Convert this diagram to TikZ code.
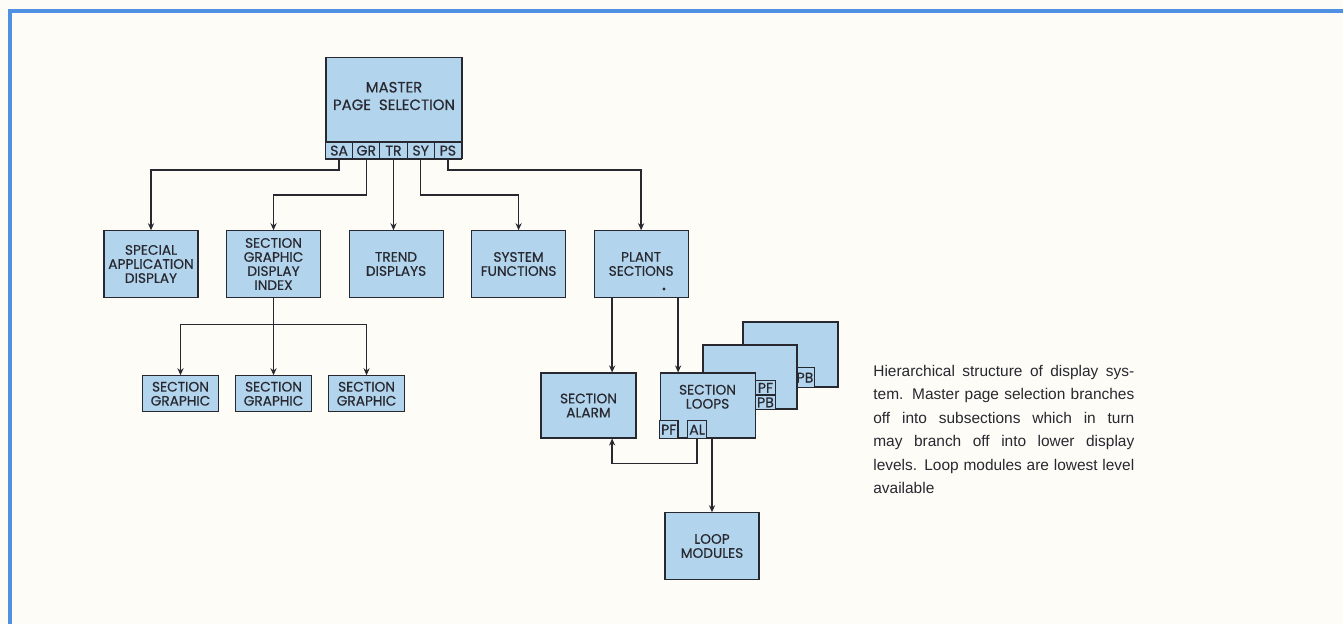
\documentclass[tikz,border=0pt]{standalone}
\usepackage{fontspec}
\setmainfont{Liberation Sans}
\newfontfamily\boxfont[FakeBold=0.4]{Poppins}
\usetikzlibrary{arrows.meta, positioning, calc}
\definecolor{boxblue}{RGB}{178,212,236}
\definecolor{inkgray}{RGB}{40,40,48}
\definecolor{frameblue}{RGB}{80,145,228}
\definecolor{paper}{RGB}{253,252,247}

\begin{document}
\begin{tikzpicture}[
    x=0.02cm, y=-0.02cm,
    node distance=0.55cm,
    box/.style={rectangle, draw=inkgray, line width=0.6pt, fill=boxblue, minimum width=1.88cm, minimum height=1.33cm, inner sep=1pt, align=center, font=\boxfont\fontsize{7.8}{8}\selectfont, text=inkgray},
    smallbox/.style={box, minimum width=1.52cm, minimum height=0.72cm},
    tab/.style={box, minimum width=0.544cm, minimum height=0.34cm, inner sep=0.5pt, outer sep=0pt, text height=0.62em, text depth=0.05em, font=\boxfont\fontsize{8}{8}\selectfont},
    link/.style={draw=inkgray, line width=0.8pt},
    arrow/.style={link, -{Stealth[length=4pt,width=3.5pt]}}
]
\useasboundingbox (0,0) rectangle (1343,624);
\clip (0,0) rectangle (1343,624);
\fill[paper] (0,0) rectangle (1343,624);
\draw[frameblue, line width=0.07cm] (10,11) rectangle (1400,700);

% master page and its tabs
\node[box, minimum width=2.72cm, minimum height=2.02cm] (mps) at (394,108) {};
\node[font=\boxfont\fontsize{8.5}{10}\selectfont, text=inkgray, align=center] (mpstitle) at (394,96) {MASTER\\PAGE\ \ SELECTION};
\node[tab, anchor=south west] (sa) at (mps.south west) {SA};
\node[tab, right=0pt of sa] (gr) {GR};
\node[tab, right=0pt of gr] (tr) {TR};
\node[tab, right=0pt of tr] (sy) {SY};
\node[tab, right=0pt of sy] (ps) {PS};

% second level
\node[box] (spad) at (151,264) {SPECIAL\\APPLICATION\\DISPLAY};
\node[box, right=of spad] (sgdi) {SECTION\\GRAPHIC\\DISPLAY\\INDEX};
\node[box, right=of sgdi] (trend) {TREND\\DISPLAYS};
\node[box, right=of trend] (sysf) {SYSTEM\\FUNCTIONS};
\node[box, right=of sysf] (plant) {PLANT\\SECTIONS};
\fill[inkgray] (664,289) circle (0.9pt);

\node[smallbox, below=1.55cm of sgdi] (sg2) {SECTION\\GRAPHIC};
\node[smallbox, left=0.32cm of sg2] (sg1) {SECTION\\GRAPHIC};
\node[smallbox, right=0.32cm of sg2] (sg3) {SECTION\\GRAPHIC};

% plant sections level
\node[box, minimum width=1.9cm, minimum height=1.3cm] (alarm) at (588.5,405.5) {SECTION\\ALARM};
\node[box, minimum width=1.9cm, minimum height=1.3cm] (page3) at (790.5,354.5) {};
\node[tab, minimum width=0.38cm, minimum height=0.4cm, anchor=south west] (pbthree) at ([xshift=1.06cm]page3.south west) {PB};
\node[box, minimum width=1.88cm, minimum height=1.28cm] (page2) at (750,377) {};
\node[tab, minimum width=0.4cm, minimum height=0.29cm, anchor=south west] (pbtwo) at ([xshift=1.06cm]page2.south west) {PB};
\node[tab, minimum width=0.4cm, minimum height=0.29cm, anchor=south] (pftwo) at (pbtwo.north) {PF};
\node[box, minimum width=1.9cm, minimum height=1.3cm, right=0.46cm of alarm] (loops) {SECTION\\LOOPS\\[2pt]};
\node[tab, minimum width=0.37cm, minimum height=0.36cm, anchor=south west] (pfloop) at (loops.south west) {PF};
\node[tab, minimum width=0.38cm, minimum height=0.36cm, anchor=south west] (alloop) at ([xshift=0.56cm]loops.south west) {AL};
\node[box] (lmod) at (712,546) {LOOP\\MODULES};

% connectors
\draw[arrow] (sa.south) -- ++(0,11) -| (spad.north);
\draw[arrow] (gr.south) -- ++(0,36) -| (sgdi.north);
\draw[arrow] (tr.south) -- (tr.south |- trend.north);
\draw[arrow] (sy.south) -- ++(0,36) -| (sysf.north);
\draw[arrow] (ps.south) -- ++(0,11) -| (plant.north);

\coordinate (sgsplit) at ($(sgdi.south)+(0,27)$);
\draw[link] (sgdi.south) -- (sgsplit);
\draw[arrow] (sgsplit) -| (sg1.north);
\draw[arrow] (sgsplit) -- (sg2.north);
\draw[arrow] (sgsplit) -| (sg3.north);

\coordinate (plantl) at ([xshift=-0.58cm]plant.south);
\coordinate (plantr) at ([xshift=0.74cm]plant.south);
\draw[arrow] (plantl) -- (plantl |- alarm.north);
\draw[arrow] (plantr) -- (plantr |- loops.north);
\draw[arrow] (alloop.south) -- ++(0,25) -| (plantl |- alarm.south);
\draw[arrow] (lmod.north |- loops.south) -- (lmod.north);

% caption
\node[anchor=north west, inner sep=0pt, text width=5.22cm, align=justify, font=\fontsize{8.8}{13.3}\selectfont, text=inkgray] (caption) at (873,365) {Hierarchical structure of display sys-\linebreak tem. Master page selection branches\linebreak off into subsections which in turn\linebreak may branch off into lower display\linebreak levels. Loop modules are lowest level\linebreak available};
\end{tikzpicture}
\end{document}
